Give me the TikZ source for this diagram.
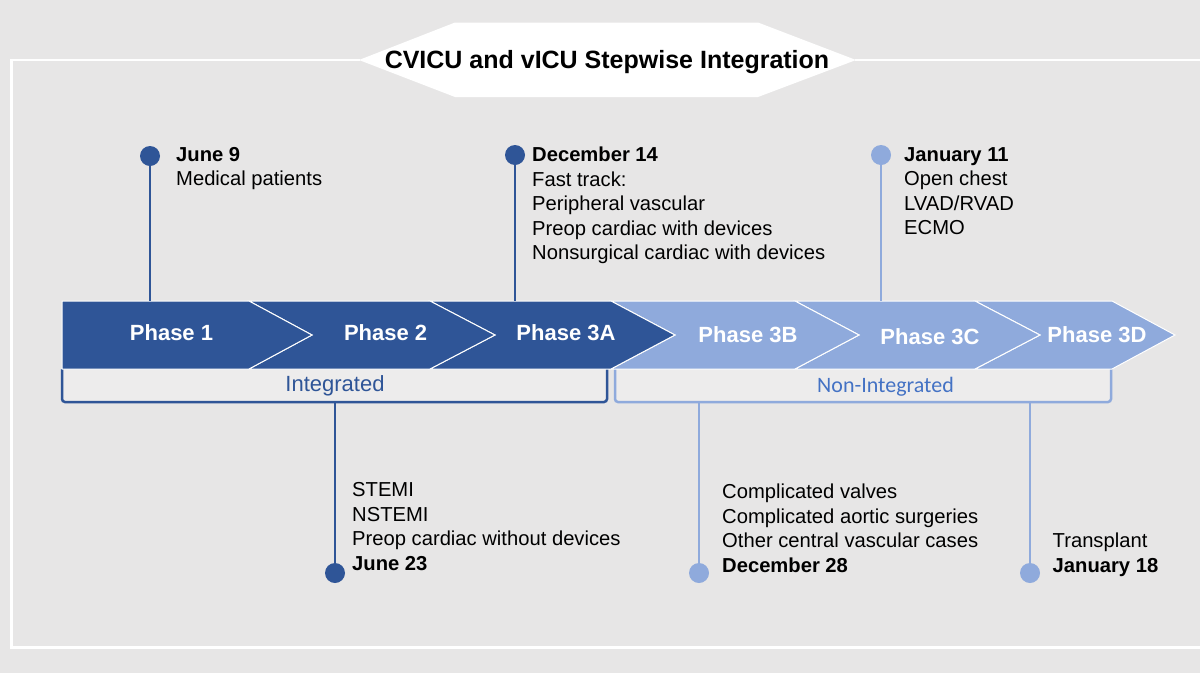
\documentclass[tikz,border=0pt]{standalone}
\usepackage{fontspec}
\setmainfont{Liberation Sans}
\newfontfamily\calfont{Carlito}
\definecolor{bgc}{HTML}{E7E6E6}
\definecolor{boxc}{HTML}{EDECEC}
\definecolor{darkb}{HTML}{2F5597}
\definecolor{lightb}{HTML}{8FAADC}
\definecolor{midb}{HTML}{4472C4}
\tikzset{
  chevdark/.style={fill=darkb,draw=white,line width=1pt,line join=miter},
  chevlight/.style={fill=lightb,draw=white,line width=1pt,line join=miter},
  phaselbl/.style={text=white,font=\fontsize{22}{26}\selectfont\bfseries,inner sep=0pt},
  dotdark/.style={circle,fill=darkb,minimum size=20pt,inner sep=0pt},
  dotlight/.style={circle,fill=lightb,minimum size=20pt,inner sep=0pt},
  stemdark/.style={draw=darkb,line width=2pt},
  stemlight/.style={draw=lightb,line width=2pt},
  info/.style={align=left,inner sep=0pt,anchor=north west,font=\fontsize{20.2}{24.5}\selectfont},
  brkdark/.style={draw=darkb,line width=2.5pt,fill=boxc,rounded corners=3pt},
  brklight/.style={draw=lightb,line width=2.5pt,fill=boxc,rounded corners=3pt},
  framel/.style={draw=white,line width=2.5pt}
}
\begin{document}
\begin{tikzpicture}[x=1pt,y=-1pt]
\fill[bgc] (0,0) rectangle (1200,673);
\useasboundingbox (0,0) rectangle (1200,673);
% frame
\draw[framel] (360,60) -- (11.5,60) -- (11.5,647.5) -- (1201,647.5);
\draw[framel] (855,60) -- (1201,60);
% title banner
\fill[white] (359,60) -- (455,22.5) -- (758,22.5) -- (856,60) -- (758,97) -- (455,97) -- cycle;
\node[font=\fontsize{25}{30}\selectfont\bfseries,anchor=base,inner sep=0pt] (title) at (607,68) {CVICU and vICU Stepwise Integration};
% brackets
\path[brkdark] (62,369) -- (62,402) -- (607,402) -- (607,369);
\path[brklight] (615,369) -- (615,402) -- (1111,402) -- (1111,369);
\node[font=\fontsize{22}{26}\selectfont,text=darkb,anchor=base,inner sep=0pt] (integ) at (335,391) {Integrated};
\node[font=\calfont\fontsize{22}{26}\selectfont,text=midb,anchor=base,inner sep=0pt] (noninteg) at (885.5,392) {Non-Integrated};
% chevrons
\path[chevlight] (975,301) -- (1112,301) -- (1175,335) -- (1112,369) -- (975,369) -- (1040,335) -- cycle;
\path[chevlight] (795,301) -- (975,301) -- (1040,335) -- (975,369) -- (795,369) -- (859,335) -- cycle;
\path[chevlight] (611,301) -- (795,301) -- (859,335) -- (795,369) -- (611,369) -- (675,335) -- cycle;
\path[chevdark] (430,301) -- (611,301) -- (675,335) -- (611,369) -- (430,369) -- (495,335) -- cycle;
\path[chevdark] (249,301) -- (430,301) -- (495,335) -- (430,369) -- (249,369) -- (312,335) -- cycle;
\path[chevdark] (62,301) -- (249,301) -- (312,335) -- (249,369) -- (62,369) -- cycle;
\node[phaselbl] (p1) at (171.5,333) {Phase 1};
\node[phaselbl] (p2) at (385.6,333) {Phase 2};
\node[phaselbl] (p3a) at (566,333) {Phase 3A};
\node[phaselbl] (p3b) at (748,335) {Phase 3B};
\node[phaselbl] (p3c) at (930,336.5) {Phase 3C};
\node[phaselbl] (p3d) at (1097,335) {Phase 3D};
% upper markers
\coordinate (c1) at (150,301);
\coordinate (c2) at (515,301);
\coordinate (c3) at (881,301);
\node[dotdark] (d1) at (150,156) {};
\node[dotdark] (d2) at (515,155) {};
\node[dotlight] (d3) at (881,155) {};
\draw[stemdark] (d1) -- (c1);
\draw[stemdark] (d2) -- (c2);
\draw[stemlight] (d3) -- (c3);
\node[info] (t1) at (176,147) {\textbf{June 9}\\Medical patients};
\node[info] (t2) at (532,147) {\textbf{December 14}\\Fast track:\\Peripheral vascular\\Preop cardiac with devices\\Nonsurgical cardiac with devices};
\node[info] (t3) at (904,147) {\textbf{January 11}\\Open chest\\LVAD/RVAD\\ECMO};
% lower markers
\coordinate (c4) at (335,402);
\coordinate (c5) at (699,402);
\coordinate (c6) at (1030,402);
\node[dotdark] (d4) at (335,573) {};
\node[dotlight] (d5) at (699,573) {};
\node[dotlight] (d6) at (1030,573) {};
\draw[stemdark] (c4) -- (d4);
\draw[stemlight] (c5) -- (d5);
\draw[stemlight] (c6) -- (d6);
\node[info] (t4) at (352,482.5) {STEMI\\NSTEMI\\Preop cardiac without devices\\\textbf{June 23}};
\node[info] (t5) at (722,484) {Complicated valves\\Complicated aortic surgeries\\Other central vascular cases\\\textbf{December 28}};
\node[info] (t6) at (1052.5,533) {Transplant\\\textbf{January 18}};
\end{tikzpicture}
\end{document}
